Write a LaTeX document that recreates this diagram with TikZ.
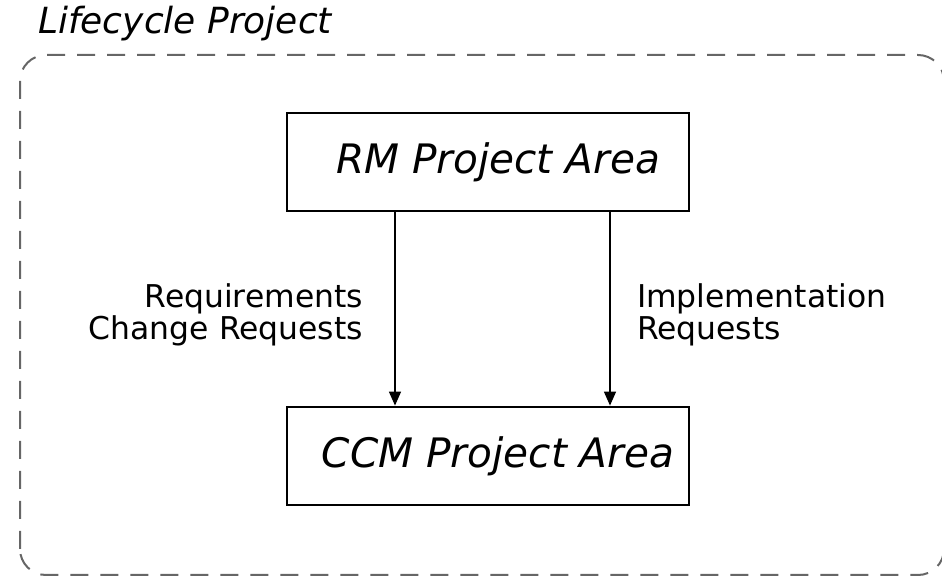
\documentclass[tikz,border=0pt]{standalone}
\usepackage{fontspec}
\setmainfont{DejaVu Sans}
\usetikzlibrary{arrows.meta,positioning}

\tikzset{
	area/.style={draw, line width=1.4pt, minimum width=201pt, minimum height=49pt, font=\fontsize{20.3}{22}\selectfont\itshape},
	flow/.style={-{Triangle[width=6pt,length=7pt]}, line width=0.7pt},
	lbl/.style={font=\fontsize{15.7}{16}\selectfont}
}

\begin{document}
\begin{tikzpicture}[x=0.5pt,y=0.5pt]
	
	\useasboundingbox (0,0) rectangle (942,578);
	\draw[gray!80!black, line width=1pt, dash pattern=on 9pt off 6pt, rounded corners=13pt] (20,3) rectangle (944,523);
	\node[anchor=base west, font=\fontsize{18}{20}\selectfont\itshape] (title) at (31,544) {Lifecycle Project};
	\node[area] (rm) at (488,416) {\hspace*{10pt}RM Project Area};
	\node[area] (ccm) at (488,122) {\hspace*{10pt}CCM Project Area};
	\draw[flow] ([xshift=-46.5pt]rm.south) -- ([xshift=-46.5pt]ccm.north);
	\draw[flow] ([xshift=61pt]rm.south) -- ([xshift=61pt]ccm.north);
	\node[lbl, align=right, anchor=east] (req) at (370,263) {Requirements\\Change Requests};
	\node[lbl, align=left, anchor=west] (impl) at (630,263) {Implementation\\Requests};
\end{tikzpicture}
\end{document}
